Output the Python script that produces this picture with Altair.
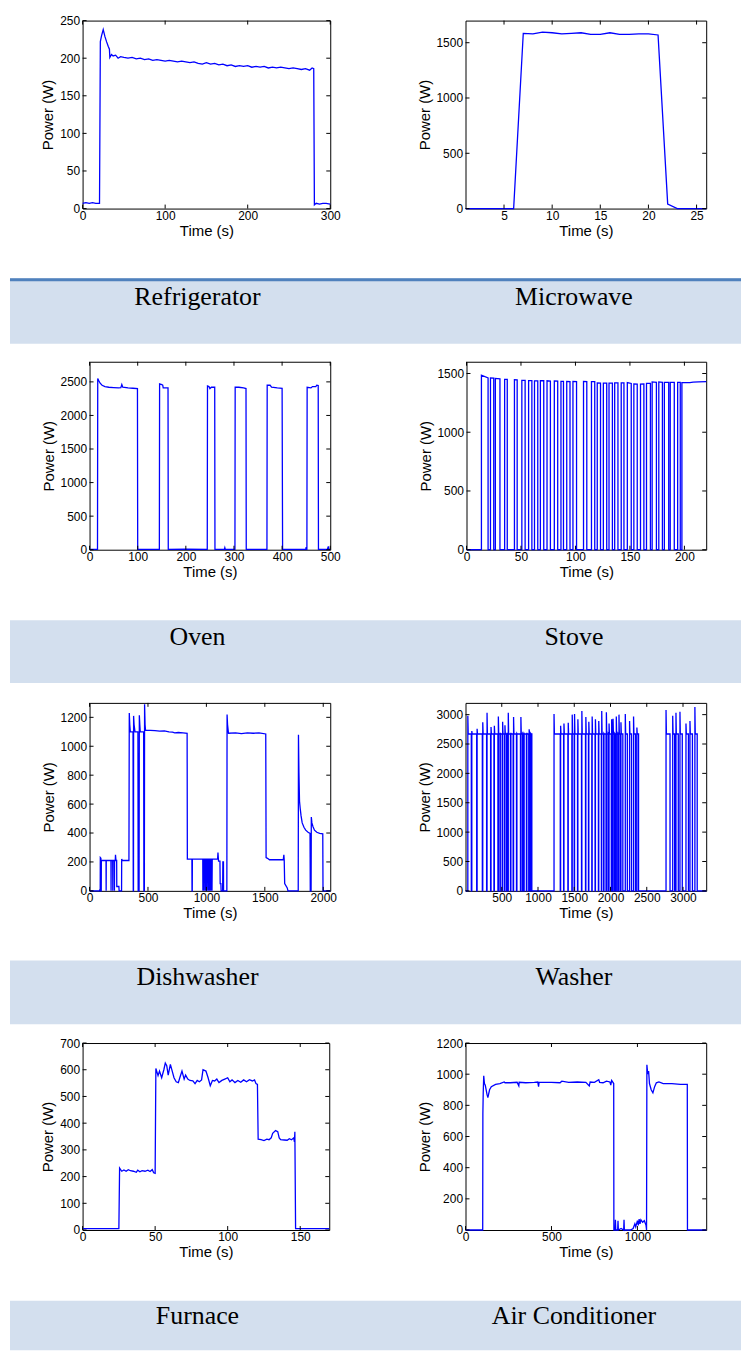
import altair as alt
import pandas as pd

BLUE = "#0000ff"
BAND_FILL = "#d3dfee"
BAND_LINE = "#4f81bd"
AXIS_FONT = "Liberation Sans"
BAND_FONT = "Liberation Serif"
TICK = 4

# ---------------- data (time s, power W) ----------------
FRIDGE = [(0, 7), (4, 8), (8, 7), (12, 8), (16, 7), (20.5, 7), (21.5, 222), (23, 230), (25, 238),
          (27, 229), (29, 222), (31, 216), (32.5, 212), (33, 201), (35, 205), (37, 203), (40, 204),
          (43, 200), (46, 202), (50, 201), (55, 200), (60, 201), (65, 199), (70, 200), (75, 198),
          (80, 199), (85, 197), (90, 198), (95, 197), (100, 196), (105, 197), (110, 196), (115, 195),
          (120, 196), (125, 195), (130, 194), (135, 195), (140, 193), (145, 192), (150, 194),
          (155, 192), (160, 193), (165, 191), (170, 192), (175, 190), (180, 191), (185, 189),
          (190, 190), (195, 189), (200, 190), (205, 188), (210, 189), (215, 188), (220, 189),
          (225, 187), (230, 188), (235, 187), (240, 188), (245, 187), (250, 186), (255, 187),
          (260, 186), (265, 185), (270, 186), (275, 184), (278, 187), (280, 186), (280.8, 5),
          (283, 7), (287, 6), (291, 7), (295, 7), (300, 6)]

MICRO = [(1, 0), (2, 0), (3, 0), (4, 0), (5, 0), (6, 0), (7, 1585), (8, 1580), (9, 1595), (10, 1590),
         (11, 1580), (12, 1585), (13, 1590), (14, 1575), (15, 1575), (16, 1590), (17, 1575),
         (18, 1575), (19, 1580), (20, 1580), (21, 1570), (22, 40), (23, 0), (24, 0), (25, 0), (26, 0)]

OVEN = [(0, 5), (16.5, 5), (17, 2550), (19, 2520), (22, 2480), (26, 2450), (32, 2430), (40, 2420),
        (50, 2415), (60, 2410), (65, 2415), (67, 2460), (69, 2420), (80, 2410), (90, 2405),
        (99.5, 2400), (100, 5), (145, 5), (145.5, 2470), (150, 2460), (152, 2450), (153, 2410),
        (163, 2410), (163.5, 5), (200, 10), (244.5, 5), (245, 2440), (248, 2430), (250, 2400),
        (253, 2420), (260, 2420), (260.5, 5), (280, 5), (281, 30), (282, 5), (302, 5), (302.5, 2420),
        (310, 2420), (320, 2410), (325, 2400), (325.5, 5), (368.5, 5), (369, 2450), (375, 2450),
        (378, 2420), (390, 2410), (400, 2405), (401, 5), (449, 5), (450, 40), (451, 5), (451.5, 5),
        (452, 2420), (460, 2410), (463, 2430), (470, 2430), (472, 2450), (475, 2445), (475.5, 5),
        (494, 5), (496, 50), (497, 5), (500, 5)]

# stove burner cycling: (on, off, power at switch-on, power at switch-off)
STOVE_PULSES = [(13.7, 19.8, 1485, 1462), (22.0, 25.0, 1462, 1460), (26.5, 30.7, 1458, 1455),
                (35.0, 37.4, 1450, 1450), (44.0, 46.5, 1448, 1446), (50.8, 53.8, 1442, 1442),
                (57.0, 60.0, 1440, 1440), (62.4, 65.4, 1437, 1437), (67.8, 70.9, 1438, 1438),
                (73.9, 77.0, 1438, 1436), (80.6, 83.7, 1436, 1435), (86.7, 89.0, 1432, 1432),
                (92.0, 95.0, 1432, 1430), (97.7, 101.0, 1432, 1430), (107.4, 110.4, 1432, 1430),
                (114.7, 117.7, 1430, 1430), (120.0, 123.0, 1420, 1418), (125.6, 128.7, 1418, 1418),
                (130.8, 133.9, 1418, 1418), (136.0, 139.0, 1420, 1420), (142.0, 144.5, 1420, 1420),
                (147.6, 151.2, 1422, 1415), (153.6, 156.7, 1412, 1410), (159.7, 162.8, 1410, 1412),
                (165.2, 168.8, 1415, 1415), (170.4, 174.3, 1428, 1425), (176.5, 179.8, 1428, 1425),
                (181.6, 185.6, 1425, 1425), (187.0, 190.7, 1425, 1425), (193.8, 196.2, 1425, 1425)]
STOVE_TAIL = [(197.7, 0), (197.7, 1422), (205, 1422), (208, 1426), (213, 1428), (220, 1430)]

DISH = [(0, 0), (85, 0), (88, 10), (90, 0), (91, 0), (92, 230), (97, 225), (99, 0), (100, 0), (101, 210),
        (141, 210), (142, 0), (143, 210), (183, 210), (184, 0), (185, 210), (198, 210), (199, 0),
        (200, 210), (212, 210), (213, 0), (214, 210), (220, 210), (222, 250), (226, 210), (232, 210),
        (233, 30), (251, 30), (253, 0), (274, 0), (275, 220), (280, 210), (337, 210), (340, 1230),
        (344, 1150), (349, 1100), (372, 1100), (374, 0), (376, 0), (377, 1210), (381, 1150),
        (389, 1100), (414, 1100), (416, 0), (424, 0), (426, 1215), (430, 1150), (434, 1100),
        (463, 1100), (465, 0), (469, 0), (471, 1290), (475, 1150), (479, 1110), (520, 1110),
        (560, 1108), (600, 1105), (640, 1106), (680, 1100), (710, 1098), (729, 1093), (760, 1095),
        (800, 1092), (835, 1090), (837, 220), (876, 220), (877, 0), (879, 0), (880, 220), (969, 220),
        (970, 0), (972, 220), (980, 220), (981, 0), (983, 220), (992, 220), (993, 0), (995, 220),
        (1003, 220), (1004, 0), (1006, 220), (1015, 220), (1016, 0), (1018, 220), (1026, 220),
        (1027, 0), (1029, 220), (1037, 220), (1038, 0), (1040, 220), (1047, 220), (1048, 0),
        (1050, 220), (1096, 220), (1099, 265), (1104, 205), (1116, 205), (1118, 50), (1124, 50),
        (1126, 0), (1139, 0), (1141, 200), (1146, 200), (1147, 0), (1175, 0), (1177, 1220),
        (1181, 1150), (1189, 1090), (1250, 1092), (1300, 1088), (1350, 1093), (1400, 1090),
        (1450, 1092), (1508, 1085), (1511, 230), (1523, 225), (1540, 215), (1600, 215), (1658, 215),
        (1663, 250), (1666, 215), (1670, 50), (1692, 20), (1698, 0), (1786, 0), (1788, 1080),
        (1792, 820), (1797, 620), (1803, 570), (1810, 520), (1820, 470), (1835, 440), (1850, 420),
        (1870, 405), (1887, 398), (1889, 0), (1896, 0), (1898, 510), (1903, 470), (1912, 445),
        (1925, 420), (1945, 405), (1970, 398), (1996, 395), (1998, 0), (2060, 0)]

# washer heater cycling: (on, off, inrush peak)
WASHER_LEVEL = 2670
WASHER_PULSES = [(32, 80, 2980), (87, 154, 2720), (160, 232, 2760), (238, 291, 2870), (297, 346, 3030),
                 (352, 392, 2790), (398, 447, 2810), (453, 475, 2970), (480, 506, 2690), (512, 538, 2880),
                 (544, 567, 2820), (572, 585, 2690), (590, 620, 3030), (626, 657, 2690), (663, 703, 2960),
                 (709, 758, 2680), (764, 786, 2960), (791, 804, 2680), (809, 840, 2680), (846, 872, 2690),
                 (878, 896, 2750), (901, 915, 2680),
                 (1221, 1307, 3010), (1312, 1353, 2810), (1358, 1412, 2850), (1417, 1467, 2860),
                 (1472, 1499, 3000), (1504, 1545, 3010), (1550, 1600, 2920), (1605, 1655, 3060),
                 (1660, 1696, 2960), (1701, 1742, 2880), (1747, 1787, 2970), (1792, 1833, 2920),
                 (1838, 1874, 2890), (1879, 1905, 3060), (1910, 1938, 2680), (1943, 1965, 3040),
                 (1970, 1975, 2680), (1980, 2011, 2850), (2016, 2030, 2920), (2035, 2055, 2930),
                 (2060, 2075, 2680), (2080, 2100, 2970), (2105, 2112, 2680), (2117, 2139, 3000),
                 (2144, 2170, 2870), (2204, 2232, 3010), (2263, 2290, 2890), (2318, 2345, 2970),
                 (2364, 2387, 2780),
                 (2766, 2821, 3080), (2858, 2885, 2980), (2903, 2935, 3030), (2958, 2990, 3050),
                 (3041, 3075, 2850), (3096, 3130, 2890), (3164, 3196, 3130)]
WASHER_SETTLE = 5

FURNACE = [(0, 5), (10, 5), (20, 5), (25, 5), (25.5, 232), (27, 220), (28.5, 225), (30, 220), (31.5, 226),
           (33, 222), (35, 220), (37, 216), (38, 224), (39.5, 218), (41, 222), (43, 220), (45, 224),
           (46.5, 219), (48, 226), (49, 214), (50, 212), (50.5, 605), (52, 578), (53, 595), (54.5, 570),
           (56, 600), (57, 625), (58, 615), (59, 580), (60.5, 620), (62, 590), (63, 570), (64.5, 555),
           (66, 552), (67, 570), (68.5, 595), (70, 565), (71, 580), (72.5, 565), (74, 560), (76, 558),
           (77.5, 548), (79, 560), (80.5, 555), (82, 562), (83, 600), (85, 595), (86.5, 570), (88, 540),
           (89.5, 560), (91, 558), (92.5, 565), (94, 552), (96, 560), (98, 565), (100, 570), (101.5, 555),
           (103, 562), (105, 552), (107, 560), (109, 553), (111, 562), (113, 555), (115, 563), (117, 558),
           (118.5, 562), (119.5, 548), (120.5, 545), (121, 340), (123, 338), (125, 335), (127, 340),
           (128.5, 338), (130, 345), (131, 362), (133, 372), (134.5, 368), (135.5, 345), (136.5, 338),
           (139, 337), (141, 336), (142.5, 342), (144, 338), (145.5, 345), (146, 330), (146.3, 368),
           (146.8, 5), (150, 5), (160, 5), (170, 5)]

AIRCON = [(0, 0), (100, 0), (101, 750), (103, 880), (106, 990), (110, 940), (115, 930), (125, 870),
          (130, 850), (140, 900), (150, 920), (175, 935), (200, 940), (225, 950), (230, 945), (260, 945),
          (300, 948), (310, 925), (312, 948), (350, 945), (400, 948), (420, 950), (425, 920), (428, 948),
          (500, 948), (550, 945), (560, 955), (600, 948), (650, 950), (700, 948), (720, 925), (725, 950),
          (750, 948), (775, 965), (780, 948), (800, 945), (820, 955), (840, 950), (845, 930), (850, 960),
          (862, 940), (863, 0), (870, 0), (872, 65), (874, 0), (885, 0), (887, 60), (889, 0), (905, 10),
          (920, 0), (922, 65), (924, 0), (960, 0), (975, 10), (985, 40), (990, 20), (1000, 60), (1005, 30),
          (1010, 70), (1015, 40), (1020, 65), (1030, 50), (1040, 60), (1050, 30), (1053, 0), (1055, 1060),
          (1060, 1000), (1065, 1020), (1070, 940), (1080, 900), (1090, 880), (1100, 920), (1110, 945),
          (1125, 950), (1150, 940), (1200, 940), (1250, 935), (1290, 935), (1291, 0), (1400, 0)]

# axes: domains and tick values
FRIDGE_X, FRIDGE_XT, FRIDGE_Y, FRIDGE_YT = [0, 300], [0, 100, 200, 300], [0, 250], [0, 50, 100, 150, 200, 250]
MICRO_X, MICRO_XT, MICRO_Y, MICRO_YT = [1, 26], [5, 10, 15, 20, 25], [0, 1700], [0, 500, 1000, 1500]
OVEN_X, OVEN_XT, OVEN_Y, OVEN_YT = [0, 500], [0, 100, 200, 300, 400, 500], [0, 2800], [0, 500, 1000, 1500, 2000, 2500]
STOVE_X, STOVE_XT, STOVE_Y, STOVE_YT = [0, 220], [0, 50, 100, 150, 200], [0, 1600], [0, 500, 1000, 1500]
DISH_X, DISH_XT, DISH_Y, DISH_YT = [0, 2060], [0, 500, 1000, 1500, 2000], [0, 1300], [0, 200, 400, 600, 800, 1000, 1200]
WASH_X, WASH_XT, WASH_Y, WASH_YT = [0, 3320], [500, 1000, 1500, 2000, 2500, 3000], [0, 3200], [0, 500, 1000, 1500, 2000, 2500, 3000]
FURN_X, FURN_XT, FURN_Y, FURN_YT = [0, 170], [0, 50, 100, 150], [0, 700], [0, 100, 200, 300, 400, 500, 600, 700]
AC_X, AC_XT, AC_Y, AC_YT = [0, 1400], [0, 500, 1000], [0, 1200], [0, 200, 400, 600, 800, 1000, 1200]

NAMES = [("Refrigerator", "Microwave"), ("Oven", "Stove"), ("Dishwasher", "Washer"),
         ("Furnace", "Air Conditioner")]


def stove_points():
    pts = [(0, 0)]
    for on, off, v0, v1 in STOVE_PULSES:
        pts += [(on, 0), (on, v0), (off, v1), (off, 0)]
    return pts + STOVE_TAIL


def washer_points():
    pts = [(WASH_X[0], 0)]
    for on, off, peak in WASHER_PULSES:
        pts += [(on, 0), (on, peak), (on + WASHER_SETTLE, WASHER_LEVEL), (off, WASHER_LEVEL), (off, 0)]
    pts.append((WASH_X[1], 0))
    return pts


def panel(points, xdom, xticks, ydom, yticks, w, h):
    df = pd.DataFrame(points, columns=["t", "w"])
    df["i"] = range(len(df))
    xs = alt.Scale(domain=xdom, nice=False, zero=False)
    ys = alt.Scale(domain=ydom, nice=False, zero=False)
    common = dict(ticks=False, tickSize=0, domain=False, grid=False, format="d",
                  labelFont=AXIS_FONT, labelFontSize=12, labelColor="black",
                  titleFont=AXIS_FONT, titleFontSize=15, titleFontWeight="normal", titleColor="black")
    xaxis = alt.Axis(values=xticks, labelFlush=False, labelPadding=2, title="Time (s)",
                     titlePadding=2, **common)
    yaxis = alt.Axis(values=yticks, labelPadding=3, title="Power (W)", titlePadding=4, **common)
    X = lambda f: alt.X(f, scale=xs, axis=xaxis)
    Y = lambda f: alt.Y(f, scale=ys, axis=yaxis)

    line = alt.Chart(df).mark_line(color=BLUE, strokeWidth=1.3).encode(
        x=X("t:Q"), y=Y("w:Q"), order="i:Q")
    xt = pd.DataFrame({"v": xticks})
    yt = pd.DataFrame({"v": yticks})
    rule = dict(color="black", strokeWidth=1)
    tb = alt.Chart(xt).mark_rule(**rule).encode(x=X("v:Q"), y=alt.value(h), y2=alt.value(h - TICK))
    tt = alt.Chart(xt).mark_rule(**rule).encode(x=X("v:Q"), y=alt.value(0), y2=alt.value(TICK))
    tl = alt.Chart(yt).mark_rule(**rule).encode(y=Y("v:Q"), x=alt.value(0), x2=alt.value(TICK))
    tr = alt.Chart(yt).mark_rule(**rule).encode(y=Y("v:Q"), x=alt.value(w - TICK), x2=alt.value(w))
    return alt.layer(line, tb, tt, tl, tr).properties(
        width=w, height=h, view=alt.ViewBackground(stroke="black", strokeWidth=1))


def spacer(w, h):
    return alt.Chart(pd.DataFrame({"a": [0]})).mark_point(size=0, opacity=0).properties(
        width=w, height=h, view=alt.ViewBackground(stroke="transparent", strokeWidth=0))


BAND_W = 735


def band(pair, h, text_y, top_line=False):
    df = pd.DataFrame({"name": list(pair), "pos": [0, 1]})
    txt = alt.Chart(df).mark_text(font=BAND_FONT, fontSize=26, color="black",
                                  baseline="alphabetic", align="center").encode(
        x=alt.X("pos:Q", scale=alt.Scale(domain=[0, 1], range=[188.5, 567]), axis=None),
        y=alt.value(text_y), text="name:N")
    layers = [txt]
    if top_line:
        layers.append(alt.Chart(pd.DataFrame({"a": [0]})).mark_rule(color=BAND_LINE, strokeWidth=3).encode(
            x=alt.value(0), x2=alt.value(BAND_W), y=alt.value(1.5)))
    return alt.layer(*layers).properties(
        width=BAND_W, height=h,
        view=alt.ViewBackground(fill=BAND_FILL, stroke="transparent", strokeWidth=0))


def row(a, left, gap, right, h):
    return alt.hconcat(spacer(a, h), left, spacer(gap, h), right, spacing=0, bounds="flush")


row1 = row(73, panel(FRIDGE, FRIDGE_X, FRIDGE_XT, FRIDGE_Y, FRIDGE_YT, 249, 189), 136,
           panel(MICRO, MICRO_X, MICRO_XT, MICRO_Y, MICRO_YT, 242, 189), 189)
row2 = row(80, panel(OVEN, OVEN_X, OVEN_XT, OVEN_Y, OVEN_YT, 242, 189), 137,
           panel(stove_points(), STOVE_X, STOVE_XT, STOVE_Y, STOVE_YT, 241, 189), 189)
row3 = row(80, panel(DISH, DISH_X, DISH_XT, DISH_Y, DISH_YT, 242, 189), 136,
           panel(washer_points(), WASH_X, WASH_XT, WASH_Y, WASH_YT, 242, 189), 189)
row4 = row(73, panel(FURNACE, FURN_X, FURN_XT, FURN_Y, FURN_YT, 248, 188), 137,
           panel(AIRCON, AC_X, AC_XT, AC_Y, AC_YT, 242, 188), 188)

B = 32
chart = alt.vconcat(
    spacer(1, 2), row1, spacer(1, 71 - B), band(NAMES[0], 66, 27, top_line=True),
    spacer(1, 16.5), row2, spacer(1, 72 - B), band(NAMES[1], 63, 25),
    spacer(1, 17.5), row3, spacer(1, 71 - B), band(NAMES[2], 64, 25),
    spacer(1, 12), row4, spacer(1, 72 - B), band(NAMES[3], 50, 24),
    spacing=0
).properties(padding=0, background="white")

chart.save("out.html", embed_options={"renderer": "svg", "actions": False})
